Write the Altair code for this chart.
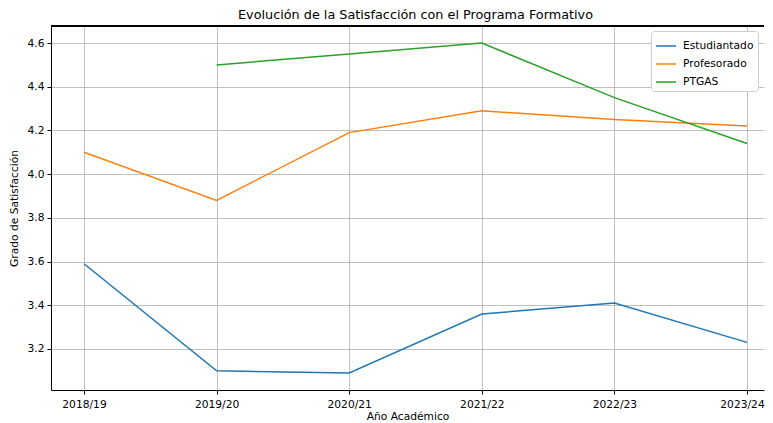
import altair as alt
import pandas as pd

years = ["2018/19", "2019/20", "2020/21", "2021/22", "2022/23", "2023/24"]
estudiantado = [3.59, 3.10, 3.09, 3.36, 3.41, 3.23]
profesorado = [4.10, 3.88, 4.19, 4.29, 4.25, 4.22]
ptgas = [None, 4.50, 4.55, 4.60, 4.35, 4.14]
series = ["Estudiantado", "Profesorado", "PTGAS"]
colors = ["#1f77b4", "#ff7f0e", "#2ca02c"]

rows = []
for name, vals in zip(series, [estudiantado, profesorado, ptgas]):
    for i, (y, v) in enumerate(zip(years, vals)):
        if v is not None:
            rows.append({"idx": i, "year": y, "serie": name, "valor": v})
df = pd.DataFrame(rows)

label_expr = "[" + ",".join(f"'{y}'" for y in years) + "][datum.value]"
last_idx = len(years) - 1

font = "DejaVu Sans"

x_enc = alt.X(
    "idx:Q",
    scale=alt.Scale(domain=[-0.249, 5.128], nice=False, zero=False),
    axis=alt.Axis(
        values=list(range(len(years))),
        labelExpr=label_expr,
        labelOffset={"condition": {"test": f"datum.value == {last_idx}", "value": -5}, "value": 0},
        title="Año Académico",
        grid=True,
    ),
)

lines = alt.Chart(df).mark_line(strokeWidth=1.5, clip=True).encode(
    x=x_enc,
    y=alt.Y(
        "valor:Q",
        scale=alt.Scale(domain=[3.012, 4.678], nice=False, zero=False),
        axis=alt.Axis(
            values=[3.2, 3.4, 3.6, 3.8, 4.0, 4.2, 4.4, 4.6],
            format=".1f",
            title="Grado de Satisfacción",
            grid=True,
        ),
    ),
    color=alt.Color(
        "serie:N",
        scale=alt.Scale(domain=series, range=colors),
        legend=alt.Legend(
            title=None,
            orient="none",
            legendX=600,
            legendY=5,
            symbolType="stroke",
            symbolStrokeWidth=1.5,
            symbolSize=400,
            labelFont=font,
            labelFontSize=10.7,
            labelColor="#000000",
            fillColor="white",
            strokeColor="#cccccc",
            padding=4,
            cornerRadius=3,
            rowPadding=2,
            labelOffset=6,
        ),
    ),
)

top_spine = alt.Chart(df).mark_rule(color="black", strokeWidth=1).encode(
    x=alt.value(0), x2=alt.value(713), y=alt.value(0)
)

chart = (
    alt.layer(lines, top_spine)
    .properties(
        width=713,
        height=364,
        title=alt.TitleParams(
            "Evolución de la Satisfacción con el Programa Formativo",
            font=font,
            fontSize=12.8,
            fontWeight="normal",
            color="black",
            anchor="middle",
            dx=8,
            offset=4,
        ),
        autosize=alt.AutoSizeParams(type="none"),
        padding={"left": 43, "top": 18, "right": 1, "bottom": 33},
    )
    .configure_view(stroke=None)
    .configure_axis(
        labelFont=font,
        labelFontSize=10.7,
        labelColor="black",
        titleFont=font,
        titleFontSize=10.7,
        titleFontWeight="normal",
        titleColor="black",
        gridColor="#b0b0b0",
        gridWidth=0.8,
        domainColor="black",
        domainWidth=1,
        tickColor="black",
        tickSize=4,
        labelPadding=3,
    )
    .configure_axisX(labelPadding=5, titlePadding=3)
    .configure_axisY(titlePadding=8)
)

chart.save("out.html", embed_options={"renderer": "svg", "actions": False})
